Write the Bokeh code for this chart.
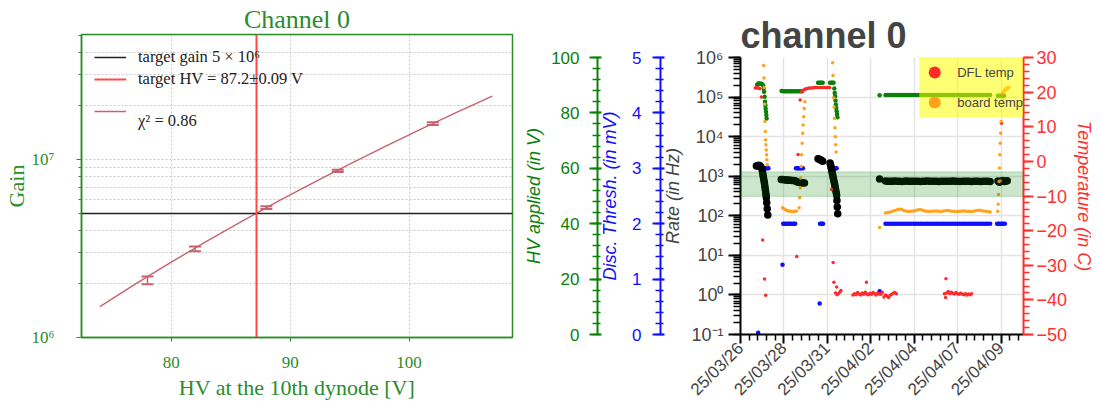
import math
import pandas as pd
from bokeh.plotting import figure
from bokeh.layouts import row
from bokeh.models import (Range1d, LinearAxis, LinearScale, FixedTicker, SingleIntervalTicker,
                          CustomJSTickFormatter, DatetimeTickFormatter, BoxAnnotation,
                          Legend, LegendItem, Whisker, TeeHead, ColumnDataSource)
from bokeh.embed import file_html
from bokeh.resources import INLINE

# ---------------- left panel: gain calibration ----------------
hv_points = [78, 82, 88, 94, 102]
gain_vals = [2.09e6, 3.15e6, 5.37e6, 8.63e6, 1.59e7]
gain_lo = [1.99e6, 3.05e6, 5.28e6, 8.50e6, 1.563e7]
gain_hi = [2.20e6, 3.25e6, 5.46e6, 8.76e6, 1.617e7]
fit_hv = [74, 77, 80, 83, 86, 89, 92, 95, 98, 101, 104, 107]
fit_gain = [1.49e6, 2.00e6, 2.65e6, 3.48e6, 4.52e6, 5.83e6, 7.44e6, 9.42e6,
            1.185e7, 1.48e7, 1.84e7, 2.27e7]
target_gain = 5e6
target_hv = 87.2
gain_major_ticks = [1e6, 1e7]
gain_minor_ticks = [2e6, 3e6, 4e6, 5e6, 6e6, 7e6, 8e6, 9e6, 2e7, 3e7, 4e7, 5e7]
hv_ticks = [80, 90, 100]

# ---------------- right panel: monitoring (hours since 2025-03-26 00:00 UTC) ----------------
run_t = [199, 202, 205, 208, 211, 214, 217, 220, 223, 226, 229, 232, 235, 238, 241, 244,
         247, 250, 253, 256, 259, 262, 265, 268, 271, 274, 277, 280, 283, 286, 289, 292,
         295, 298, 301, 304, 307, 310, 313, 316, 319, 322, 325, 328, 331, 334]

hv_t = [33.5, 35.0, 36.5, 38.0, 39.5, 41.0, 41.9, 42.4, 43.1, 43.6, 44.0, 44.4, 44.9, 45.3, 45.7,
        65, 67, 69, 71, 73, 75, 77, 79, 81, 83, 85, 87, 89, 91,
        112.0, 113.5, 115.0, 116.5, 118.0, 127.5, 129.0, 130.5, 132.0,
        133.0, 133.5, 134.0, 134.5, 135.0, 135.5, 136.0, 136.5, 137.0, 191.4,
        344, 346, 348, 350, 352]
hv_v = [90.2, 90.6, 90.6, 90.5, 90.4, 90.0, 88.8, 87.6, 85.8, 84.0, 82.8, 81.6, 80.4, 79.2, 78.0,
        87.9, 87.8, 87.8, 87.8, 87.8, 87.8, 87.8, 87.8, 87.8, 87.8, 87.8, 87.8, 87.8, 87.8,
        90.9, 90.9, 90.9, 90.9, 90.9, 90.9, 90.9, 90.9, 90.9,
        88.8, 87.2, 86.0, 84.5, 83.0, 81.8, 80.6, 79.5, 78.4, 86.4,
        86.2, 86.2, 86.2, 86.2, 86.2]
run_hv = [86.5, 86.5, 86.5, 86.5, 86.5, 86.5, 86.5, 86.5, 86.5, 86.5, 86.5, 86.5, 86.5, 86.5,
          86.5, 86.5, 86.5, 86.5, 86.5, 86.5, 86.5, 86.5, 86.5, 86.5, 86.5, 86.5, 86.5, 86.5,
          86.5, 86.5, 86.5, 86.5, 86.5, 86.5, 86.5, 86.5, 86.5, 86.5, 86.5, 86.5, 86.5, 86.5,
          86.5, 86.5, 86.5, 86.5]

rate_t = [32.5, 34.0, 35.5, 37.0, 38.5,
          39.8, 40.3, 40.8, 41.3, 41.8, 42.3, 42.8, 43.3, 43.8, 44.2, 44.6, 45.0, 45.3, 45.8, 46.5, 47.2,
          64.5, 66.5, 68.5, 70.5, 72.5, 74.5, 76.5, 78.5, 80.5, 82.5, 84.5, 86.5, 88.5, 90.5, 92.5, 94.5,
          112.0, 113.5, 115.0, 116.5, 118.0,
          127.5, 128.2, 128.8, 129.4, 130.0, 130.6, 131.2, 131.8, 132.4, 133.0, 133.6, 134.2, 134.8,
          135.4, 136.0, 136.4, 136.8, 137.4,
          191.4, 344, 346, 348, 350, 352, 354, 356]
rate_v = [1800, 1850, 1900, 1850, 1700,
          1500, 1300, 1150, 1000, 880, 770, 670, 580, 500, 430, 370, 330, 285, 214, 151, 105,
          830, 820, 810, 800, 800, 790, 790, 780, 780, 770, 720, 700, 690, 680, 680, 670,
          2750, 2700, 2600, 2500, 2400,
          2150, 1950, 1700, 1500, 1300, 1150, 1000, 880, 770, 680, 600, 520, 450,
          390, 330, 245, 167, 112,
          850, 760, 700, 740, 780, 730, 750, 770]
run_rate = [760, 750, 745, 750, 755, 750, 745, 740, 750, 755,
            750, 745, 750, 750, 745, 740, 745, 750, 755, 750,
            745, 750, 745, 740, 745, 750, 750, 745, 750, 755,
            750, 745, 740, 745, 750, 750, 745, 740, 745, 750,
            745, 740, 745, 750, 745, 740]

thr_t = [34.7, 37.5, 39.0, 40.5, 42.0, 43.5, 45.0, 46.5, 48.0,
         66.2, 67, 69, 71, 73, 75, 77, 79, 81, 82.5,
         83.5, 85.0, 86.5, 88.0, 89.5, 91.0, 92.5,
         114.1, 114.5, 116.0, 117.5, 118.5,
         127.5, 129.0, 130.5, 132.0, 133.5, 135.0, 136.0,
         191.4, 343, 345, 347, 349, 351, 353]
thr_v = [0.03, 3.0, 3.0, 3.0, 3.0, 3.0, 3.0, 3.0, 3.0,
         1.26, 2.0, 2.0, 2.0, 2.0, 2.0, 2.0, 2.0, 2.0, 2.0,
         3.0, 3.0, 3.0, 3.0, 3.0, 3.0, 3.0,
         0.56, 2.0, 2.0, 2.0, 2.0,
         3.0, 3.0, 3.0, 3.0, 3.0, 3.0, 3.0,
         0.78, 2.0, 2.0, 2.0, 2.0, 2.0, 2.0]
run_thr = [2.0, 2.0, 2.0, 2.0, 2.0, 2.0, 2.0, 2.0, 2.0, 2.0, 2.0, 2.0, 2.0, 2.0, 2.0, 2.0,
           2.0, 2.0, 2.0, 2.0, 2.0, 2.0, 2.0, 2.0, 2.0, 2.0, 2.0, 2.0, 2.0, 2.0, 2.0, 2.0,
           2.0, 2.0, 2.0, 2.0, 2.0, 2.0, 2.0, 2.0, 2.0, 2.0, 2.0, 2.0, 2.0, 2.0]

dfl_t = [31.0, 32.5, 34.0, 35.5, 37.0, 38.9, 40.6, 43.0, 44.5,
         84.6, 86.3, 88.9,
         91, 92.5, 94, 95.5, 97, 99, 101, 103, 105, 107, 109, 111, 113, 115, 117, 119, 121, 123, 125, 127,
         129.4, 131.5, 132.5, 134.5, 136.0, 136.5, 138.0, 140.0, 141.5,
         157, 159, 161, 163, 165, 167, 169, 171, 173, 175, 177, 179, 181, 183, 185, 187, 189, 191,
         193, 195, 197, 199, 201, 203, 205, 207, 209, 211, 213, 174.4,
         275, 276.5, 278, 280, 282, 284, 286, 288, 290, 292, 294, 296, 298, 300, 302, 304, 306, 308, 310, 277,
         347.5, 348.6, 350, 352, 354, 356, 358]
dfl_v = [21.2, 21.3, 21.2, 21.2, 21.0, 18.6, -22.7, -34.0, -38.7,
         -27.5, 2.0, 17.7,
         20.1, 20.4, 20.7, 20.9, 21.0, 21.1, 21.2, 21.2, 21.2, 21.3, 21.3, 21.3, 21.3, 21.3, 21.3, 21.3,
         21.3, 21.3, 21.3, 21.3,
         -8.1, -29.2, -34.9, -38.0, -36.3, -38.5, -38.2, -37.8, -37.3,
         -38.6, -38.2, -38.5, -37.9, -38.3, -38.6, -38.0, -38.4, -37.8, -38.3, -38.5, -38.1, -38.4, -37.9,
         -38.2, -38.6, -38.0, -38.3, -38.4, -37.8, -39.2, -38.6, -38.9, -39.3, -38.7, -38.4, -38.1, -37.9,
         -38.2, -34.9,
         -38.2, -39.3, -38.0, -37.6, -38.2, -37.8, -38.1, -38.3, -37.9, -38.2, -38.4, -38.1, -38.3, -38.5,
         -38.2, -38.6, -38.3, -38.5, -38.2, -33.9,
         -5.6, 11.0, 19.5, 20.3, 20.8, 21.1, 21.3]

brd_t = [41.9, 42.2, 42.5, 43.0, 43.5, 44.0, 44.4, 44.8, 45.2, 45.6, 46.0, 46.6,
         66.2, 68, 70, 72, 74, 76, 78, 80, 82, 84,
         87.6, 88.3, 89.0, 89.6, 90.2, 90.8, 91.5, 92.2, 92.8, 93.5, 94.2, 95.0,
         130.8, 131.3, 132.2, 132.7, 133.3, 133.8, 134.3, 134.8, 135.3,
         191.4,
         343.8, 344.3, 344.8, 345.5, 346.0, 346.5, 347.0, 347.6, 348.2, 349.6, 351.6, 353.8, 356.0, 358.0]
brd_v = [27.7, 24.1, 21.3, 16.5, 11.5, 8.6, 6.2, 4.8, 3.3, 1.9, 0.5, -1.0,
         -13.4, -13.7, -14.0, -14.2, -14.3, -14.4, -14.4, -14.5, -14.4, -14.3,
         -13.4, -10.5, -7.6, -4.8, -1.5, 1.9, 5.2, 8.1, 10.5, 12.9, 15.3, 17.2,
         28.5, 24.8, 18.3, 15.7, 12.4, 9.7, 7.1, 4.8, 2.7,
         -19.1,
         -14.4, -12.4, -9.6, -5.8, -1.9, 1.9, 5.2, 8.1, 11.5, 17.7, 20.1, 21.0, 21.3, 21.4]
run_brd = [-14.9, -14.8, -14.6, -14.4, -14.2, -14.0, -13.8, -13.8, -14.2, -14.4,
           -14.5, -14.4, -14.3, -14.2, -14.0, -13.9, -14.1, -14.3, -14.4, -14.5,
           -14.4, -14.3, -14.3, -14.4, -14.5, -14.3, -14.2, -14.2, -14.3, -14.4,
           -14.5, -14.5, -14.4, -14.3, -14.3, -14.4, -14.5, -14.5, -14.4, -14.2,
           -14.1, -14.2, -14.3, -14.4, -14.5, -14.6]

rate_band = (310, 1280)          # accepted rate window (Hz)
date_tick_hours = [12, 68, 124, 180, 236, 292, 348]
x_span_hours = (12, 377)

# ---------------- styling ----------------
GREEN_L = "#2a8c2a"
FIT = "#c9626f"
SERIF = "Liberation Serif"
SANS = "Liberation Sans"
GREY = "#444444"
HV_C = "#0a800a"
THR_C = "#1010ff"
TEMP_C = "#ff3030"
BRD_C = "#ffa31a"

SUP_JS = """
const sup = {"-": "\\u207b", "0": "\\u2070", "1": "\\u00b9", "2": "\\u00b2", "3": "\\u00b3",
             "4": "\\u2074", "5": "\\u2075", "6": "\\u2076", "7": "\\u2077", "8": "\\u2078", "9": "\\u2079"};
const e = Math.round(Math.log10(tick));
return "10" + String(e).split("").map(c => sup[c]).join("");
"""
MINUS_JS = """
return (tick < 0 ? "\\u2212" : "") + Math.abs(tick).toFixed(0);
"""

# ================= left figure =================
p1 = figure(width=520, height=408, y_axis_type="log",
            x_range=Range1d(72.45, 108.7), y_range=Range1d(1e6, 5.04e7),
            output_backend="svg", toolbar_location=None,
            min_border_left=80, min_border_right=8, min_border_top=34, min_border_bottom=71)
p1.frame_align = False
p1.title.text = "Channel 0"
p1.title.align = "center"
p1.title.text_font = SERIF
p1.title.text_font_size = "26px"
p1.title.text_font_style = "normal"
p1.title.text_color = GREEN_L
p1.title.standoff = 2
p1.outline_line_color = GREEN_L
p1.outline_line_width = 1.5

for ax in (p1.xaxis[0], p1.yaxis[0]):
    ax.axis_line_color = GREEN_L
    ax.axis_line_width = 1.5
    ax.major_tick_line_color = GREEN_L
    ax.minor_tick_line_color = GREEN_L
    ax.major_label_text_color = GREEN_L
    ax.major_label_text_font = SERIF
    ax.major_label_text_font_size = "17px"
    ax.axis_label_text_color = GREEN_L
    ax.axis_label_text_font = SERIF
    ax.axis_label_text_font_size = "22px"
    ax.axis_label_text_font_style = "normal"
    ax.major_tick_in = 0
    ax.minor_tick_in = 0

p1.xaxis.ticker = FixedTicker(ticks=hv_ticks, minor_ticks=[])
p1.xaxis.major_tick_out = 4
p1.xaxis.minor_tick_out = 0
p1.xaxis.major_label_standoff = 15
p1.xaxis.axis_label_standoff = 4
p1.xaxis.axis_label = "HV at the 10th dynode [V]"

p1.yaxis.ticker = FixedTicker(ticks=gain_major_ticks, minor_ticks=gain_minor_ticks)
p1.yaxis.formatter = CustomJSTickFormatter(code=SUP_JS)
p1.yaxis.major_tick_out = 5
p1.yaxis.minor_tick_out = 3
p1.yaxis.major_label_standoff = 22
p1.yaxis.axis_label_standoff = 0
p1.yaxis.axis_label = "Gain"

p1.xgrid.grid_line_color = "#c8c8c8"
p1.xgrid.grid_line_dash = "2 2"
p1.ygrid.grid_line_color = "#c8c8c8"
p1.ygrid.grid_line_dash = "2 2"
p1.ygrid.minor_grid_line_color = "#c8c8c8"
p1.ygrid.minor_grid_line_dash = "2 2"

fit_r = p1.line(fit_hv, fit_gain, line_color=FIT, line_width=1.4)
err_src = ColumnDataSource(dict(x=hv_points, y=gain_vals, lo=gain_lo, hi=gain_hi))
p1.add_layout(Whisker(base="x", lower="lo", upper="hi", source=err_src, dimension="height",
                      line_color=FIT, line_width=1.5,
                      upper_head=TeeHead(size=12, line_color=FIT, line_width=2),
                      lower_head=TeeHead(size=12, line_color=FIT, line_width=2)))
r_tg = p1.hspan(y=[target_gain], line_color="#222222", line_width=1.6)
r_th = p1.vspan(x=[target_hv], line_color="#ff4848", line_width=2)

leg1 = Legend(items=[LegendItem(label="target gain 5 \u00d7 10\u2076", renderers=[r_tg]),
                     LegendItem(label="target HV = 87.2\u00b10.09 V", renderers=[r_th]),
                     LegendItem(label="\n\u03c7\u00b2 = 0.86", renderers=[fit_r])],
              location="top_left", background_fill_alpha=0, border_line_alpha=0,
              label_text_font=SERIF, label_text_font_size="16.5px", label_text_color="#222222",
              glyph_width=32, glyph_height=20, label_standoff=12, padding=10, margin=3, spacing=2)
p1.add_layout(leg1)

# ================= right figure =================
BASE_MS = pd.Timestamp("2025-03-26").value / 1e6
H_MS = 3600.0 * 1000.0


def to_ms(hours):
    return [BASE_MS + h * H_MS for h in hours]


p2 = figure(width=582, height=408, x_axis_type="datetime", y_axis_type="log",
            x_range=Range1d(to_ms([x_span_hours[0]])[0], to_ms([x_span_hours[1]])[0]),
            y_range=Range1d(0.1, 1e6),
            output_backend="svg", toolbar_location=None,
            min_border_left=220, min_border_right=79, min_border_top=57, min_border_bottom=72)
p2.frame_align = False
p2.extra_y_ranges = {"hv": Range1d(0, 100), "thr": Range1d(0, 5), "temp": Range1d(-50, 30)}
p2.extra_y_scales = {"hv": LinearScale(), "thr": LinearScale(), "temp": LinearScale()}
p2.outline_line_color = None
p2.title.text = "channel 0"
p2.title.align = "left"
p2.title.text_font = SANS
p2.title.text_font_size = "36px"
p2.title.text_font_style = "bold"
p2.title.text_color = GREY
p2.title.standoff = 3

p2.xgrid.grid_line_color = "#e4e4e4"
p2.xgrid.grid_line_width = 1.5
p2.ygrid.grid_line_color = "#e4e4e4"
p2.ygrid.grid_line_width = 1.5

p2.add_layout(BoxAnnotation(bottom=rate_band[0], top=rate_band[1], fill_color="green",
                            fill_alpha=0.2, line_color="green", line_alpha=0.25, line_width=1))

r_hv = p2.scatter(to_ms(hv_t + run_t), hv_v + run_hv, y_range_name="hv", size=4.5,
                  fill_color=HV_C, line_color=None)
r_thr = p2.scatter(to_ms(thr_t + run_t), thr_v + run_thr, y_range_name="thr", size=4.5,
                   fill_color=THR_C, line_color=None)
r_rate = p2.scatter(to_ms(rate_t + run_t), rate_v + run_rate, size=7.5,
                    fill_color="black", line_color=None)
r_dfl = p2.scatter(to_ms(dfl_t), dfl_v, y_range_name="temp", size=3.5,
                   fill_color="#ff2a2a", line_color=None)
r_brd = p2.scatter(to_ms(brd_t + run_t), brd_v + run_brd, y_range_name="temp", size=3.5,
                   fill_color=BRD_C, line_color=None)

# x axis (dates)
minor = []
for a in date_tick_hours:
    for k in range(1, 5):
        minor.append(a + k * 11.2)
minor = [m for m in minor if m <= x_span_hours[1]]
xa = p2.xaxis[0]
xa.ticker = FixedTicker(ticks=to_ms(date_tick_hours), minor_ticks=to_ms(minor))
fmt = "%y/%m/%d"
xa.formatter = DatetimeTickFormatter(microseconds=fmt, milliseconds=fmt, seconds=fmt, minsec=fmt,
                                     minutes=fmt, hourmin=fmt, hours=fmt, days=fmt, months=fmt,
                                     years=fmt)
xa.major_label_orientation = math.pi / 4
xa.major_label_text_font = SANS
xa.major_label_text_font_size = "17px"
xa.major_label_text_color = GREY
xa.axis_line_width = 2
xa.major_tick_in = 0
xa.major_tick_out = 9
xa.minor_tick_in = 0
xa.minor_tick_out = 6
xa.major_tick_line_width = 2
xa.minor_tick_line_width = 1.5
xa.major_label_standoff = 2

# rate axis
ra = p2.yaxis[0]
ra.formatter = CustomJSTickFormatter(code=SUP_JS)
ra.axis_label = "Rate (in Hz)"
ra.axis_label_text_font = SANS
ra.axis_label_text_font_style = "italic"
ra.axis_label_text_font_size = "18px"
ra.axis_label_text_color = GREY
ra.major_label_text_font = SANS
ra.major_label_text_font_size = "18px"
ra.major_label_text_color = GREY
ra.axis_line_width = 2
ra.major_tick_in = 0
ra.major_tick_out = 12
ra.minor_tick_in = 0
ra.minor_tick_out = 7
ra.major_tick_line_width = 2
ra.minor_tick_line_width = 1.5
ra.major_label_standoff = 5
ra.axis_label_standoff = 5

# threshold axis
ta = LinearAxis(y_range_name="thr", axis_label="Disc. Thresh. (in mV)",
                ticker=SingleIntervalTicker(interval=1, num_minor_ticks=5))
# HV axis
ha = LinearAxis(y_range_name="hv", axis_label="HV applied (in V)",
                ticker=SingleIntervalTicker(interval=20, num_minor_ticks=5))
for ax, col, lab_so, ax_so in ((ta, THR_C, 11, 9), (ha, HV_C, 10, 4)):
    ax.axis_line_color = col
    ax.axis_line_width = 2
    ax.major_tick_line_color = col
    ax.minor_tick_line_color = col
    ax.major_tick_line_width = 2
    ax.minor_tick_line_width = 1.5
    ax.major_tick_in = 4
    ax.major_tick_out = 8
    ax.minor_tick_in = 3
    ax.minor_tick_out = 5
    ax.major_label_text_color = col
    ax.major_label_text_font = SANS
    ax.major_label_text_font_size = "17px"
    ax.major_label_standoff = lab_so
    ax.axis_label_text_color = col
    ax.axis_label_text_font = SANS
    ax.axis_label_text_font_style = "italic"
    ax.axis_label_text_font_size = "18px"
    ax.axis_label_standoff = ax_so
p2.add_layout(ta, "left")
p2.add_layout(ha, "left")

# temperature axis
tp = LinearAxis(y_range_name="temp", axis_label="Temperature (in C)",
                ticker=SingleIntervalTicker(interval=10, num_minor_ticks=5),
                formatter=CustomJSTickFormatter(code=MINUS_JS))
tp.axis_line_color = TEMP_C
tp.axis_line_width = 2
tp.major_tick_line_color = TEMP_C
tp.minor_tick_line_color = TEMP_C
tp.major_tick_line_width = 2
tp.minor_tick_line_width = 1.5
tp.major_tick_in = 0
tp.major_tick_out = 10
tp.minor_tick_in = 0
tp.minor_tick_out = 6
tp.major_label_text_color = TEMP_C
tp.major_label_text_font = SANS
tp.major_label_text_font_size = "18px"
tp.major_label_standoff = 3
tp.axis_label_text_color = TEMP_C
tp.axis_label_text_font = SANS
tp.axis_label_text_font_style = "italic"
tp.axis_label_text_font_size = "18px"
tp.axis_label_standoff = 4
p2.add_layout(tp, "right")

leg2 = Legend(items=[LegendItem(label="DFL temp", renderers=[r_dfl]),
                     LegendItem(label="board temp", renderers=[r_brd])],
              location="top_right", background_fill_color="#ffff00", background_fill_alpha=0.55,
              border_line_alpha=0, label_text_font=SANS, label_text_font_size="13px",
              label_text_color=GREY, glyph_width=30, glyph_height=30, label_standoff=8,
              padding=0, spacing=0, margin=0)
p2.add_layout(leg2)

layout = row(p1, p2)
with open("out.html", "w", encoding="utf-8") as f:
    f.write(file_html(layout, INLINE))
